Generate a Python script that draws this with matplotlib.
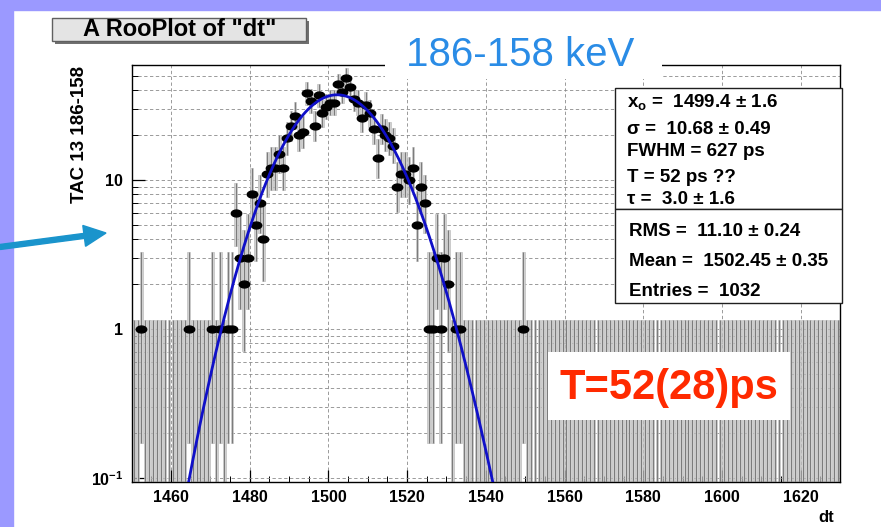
import math
import numpy as np
import matplotlib
matplotlib.use("Agg")
import matplotlib.pyplot as plt
from matplotlib.patches import Rectangle, FancyArrow
from matplotlib.path import Path
from matplotlib.ticker import FixedLocator, FixedFormatter, MultipleLocator, NullFormatter

plt.rcParams['font.family'] = ['Liberation Sans', 'DejaVu Sans']
plt.rcParams['mathtext.fontset'] = 'custom'
plt.rcParams['mathtext.rm'] = 'Liberation Sans:bold'
plt.rcParams['mathtext.it'] = 'Liberation Sans:bold'
plt.rcParams['mathtext.bf'] = 'Liberation Sans:bold'

# dt histogram: 1-unit bins over [1450, 1630); bins not listed are empty
dt_range = (1450, 1630)
dt_bins = [1452, 1464, 1470, 1472, 1474, 1475,
           1476, 1477, 1478, 1479, 1480, 1481, 1482, 1483,
           1484, 1485, 1486, 1487, 1488, 1489, 1490, 1491, 1492, 1493,
           1494, 1495, 1496, 1497, 1498, 1499, 1500, 1501, 1502, 1503,
           1504, 1505, 1506, 1507, 1508, 1509, 1510, 1511, 1512, 1513,
           1514, 1515, 1516, 1517, 1518, 1519, 1520, 1521, 1522, 1523, 1524,
           1525, 1526, 1527, 1528, 1529, 1530, 1532, 1533, 1549]
dt_counts = [1, 1, 1, 1, 1, 1,
             6, 3, 2, 3, 8, 5, 7, 4,
             11, 12, 12, 15, 12, 19, 23, 27, 20, 21,
             38, 34, 23, 37, 28, 31, 33, 33, 44, 39,
             48, 42, 35, 33, 26, 32, 28, 22, 14, 22,
             20, 19, 17, 9, 11, 11, 10, 12, 5, 9, 7,
             1, 1, 3, 1, 3, 2, 1, 1, 1]

# fit result: Gaussian convolved with an exponential decay
fit_x0 = 1499.4
fit_sigma = 10.68
fit_tau = 3.0
n_entries = 1032

x_ticks = [1460, 1480, 1500, 1520, 1540, 1560, 1580, 1600, 1620]
y_ticks = [0.1, 1, 10]
y_tick_labels = [r'$10^{-1}$', '1', '10']

stat_lines_fit = [r'x$_{\rm o}$ =  1499.4 ± 1.6', 'σ =  10.68 ± 0.49', 'FWHM = 627 ps',
                  'T = 52 ps ??', 'τ =  3.0 ± 1.6']
stat_lines_hist = ['RMS =  11.10 ± 0.24', 'Mean =  1502.45 ± 0.35', 'Entries =  1032']


def poisson_cdf(k, mu):
    term = math.exp(-mu)
    total = term
    for i in range(1, k + 1):
        term *= mu / i
        total += term
    return total


def solve_mu(k, target):
    lo, hi = 0.0, k + 20.0 * math.sqrt(k + 1) + 20.0
    for _ in range(100):
        mid = 0.5 * (lo + hi)
        if poisson_cdf(k, mid) > target:
            lo = mid
        else:
            hi = mid
    return 0.5 * (lo + hi)


def poisson_interval(n):
    if n == 0:
        return 0.0, solve_mu(0, 1 - 0.6827)
    return solve_mu(n - 1, 0.84135), solve_mu(n, 0.15865)


def emg(x, n, mu, sigma, tau):
    lam = 1.0 / tau
    out = []
    for xi in x:
        arg = lam * (mu - xi) + 0.5 * lam * lam * sigma * sigma
        erfc_arg = (mu + lam * sigma * sigma - xi) / (math.sqrt(2.0) * sigma)
        out.append(n * 0.5 * lam * math.exp(arg) * math.erfc(erfc_arg))
    return np.array(out)


W, H = 881, 527
fig = plt.figure(figsize=(W / 100, H / 100), dpi=100)
fig.patch.set_facecolor('white')

ax_l, ax_r, ax_t, ax_b = 131.6, 840.0, 65.0, 482.0
ax = fig.add_axes([ax_l / W, 1 - ax_b / H, (ax_r - ax_l) / W, (ax_b - ax_t) / H])
ax.set_yscale('log')
ax.set_xlim(*dt_range)
ax.set_ylim(0.094, 59.0)

# every bin of the histogram with its Poisson interval
count_map = dict(zip(dt_bins, dt_counts))
edges = np.arange(dt_range[0], dt_range[1])
centers = edges + 0.5
counts = np.array([count_map.get(int(e), 0) for e in edges])
lows, highs = [], []
for c in counts:
    lo, hi = poisson_interval(int(c))
    lows.append(lo if lo > 0 else 1e-3)
    highs.append(hi)
lows = np.array(lows)
highs = np.array(highs)

ax.bar(centers, highs - lows, bottom=lows, width=0.72, color='#d2d2d2',
       edgecolor='#b4b4b4', linewidth=0.4, zorder=2)
ax.vlines(centers, lows, highs, color='#7c7c7c', linewidth=0.75, zorder=3)

filled = counts > 0
ax.hlines(counts[filled], edges[filled], edges[filled] + 1, color='black',
          linewidth=0.9, zorder=4)
theta = np.linspace(0, 2 * np.pi, 41)
ellipse = Path(np.column_stack([np.cos(theta), 0.66 * np.sin(theta)]), closed=True)
ax.plot(centers[filled], counts[filled], linestyle='none', marker=ellipse,
        markersize=7.5, color='black', zorder=5)

xs = np.linspace(dt_range[0], dt_range[1], 1200)
ax.plot(xs, emg(xs, n_entries, fit_x0, fit_sigma, fit_tau), color='#1010c8',
        linewidth=2.0, zorder=6)

# axes styling
ax.xaxis.set_major_locator(FixedLocator(x_ticks))
ax.xaxis.set_minor_locator(MultipleLocator(5))
ax.yaxis.set_major_locator(FixedLocator(y_ticks))
ax.yaxis.set_major_formatter(FixedFormatter(y_tick_labels))
ax.yaxis.set_minor_locator(FixedLocator(
    [m * d for d in (0.1, 1, 10) for m in range(2, 10)]))
ax.yaxis.set_minor_formatter(NullFormatter())
ax.tick_params(which='both', direction='in', top=False, right=False)
ax.tick_params(which='major', length=9, width=0.9, labelsize=11.5, pad=6)
ax.tick_params(which='minor', length=4.5, width=0.7)
for lab in ax.get_xticklabels() + ax.get_yticklabels():
    lab.set_fontweight('bold')
ax.grid(True, which='both', axis='y', linestyle=(0, (4, 3)), color='#8a8a8a',
        linewidth=0.6, zorder=1)
ax.grid(True, which='major', axis='x', linestyle=(0, (4, 3)), color='#8a8a8a',
        linewidth=0.6, zorder=1)
ax.set_axisbelow(True)
for s in ax.spines.values():
    s.set_linewidth(1.0)

fig.text(826 / W, 1 - 517 / H, 'dt', fontsize=12, fontweight='bold',
         ha='center', va='center')
fig.text(80 / W, 1 - 134 / H, 'TAC 13 186-158', fontsize=13.5, fontweight='bold',
         rotation=90, ha='center', va='center')

# overlay in pixel coordinates for the panels drawn over the frame
deco = fig.add_axes([0, 0, 1, 1], facecolor='none')
deco.set_xlim(0, W)
deco.set_ylim(H, 0)
deco.axis('off')

lav = '#9b99ff'
deco.add_patch(Rectangle((0, 0), W, 10, color=lav, zorder=1))
deco.add_patch(Rectangle((0, 0), 13, H, color=lav, zorder=1))

deco.add_patch(FancyArrow(0, 247, 106, -14, width=5, head_width=21,
                          head_length=22, length_includes_head=True,
                          color='#1a94cc', zorder=3))

# title button
deco.add_patch(Rectangle((55, 21), 254, 23, facecolor='#707070', edgecolor='none', zorder=2))
deco.add_patch(Rectangle((52, 18), 254, 23, facecolor='#e4e4e4', edgecolor='#606060',
                         linewidth=1.0, zorder=3))
deco.text(180, 30, 'A RooPlot of "dt"', fontsize=17, fontweight='bold',
          ha='center', va='center', zorder=4)

# energy gate label
deco.add_patch(Rectangle((385, 33), 277, 46, facecolor='white', edgecolor='none', zorder=2))
deco.text(520, 55, '186-158 keV', fontsize=29, color='#2a8ce6',
          ha='center', va='center', zorder=3)

# fit and histogram statistics
deco.add_patch(Rectangle((615, 88), 227, 121, facecolor='white', edgecolor='#202020',
                         linewidth=1.0, zorder=2))
deco.add_patch(Rectangle((615, 209), 227, 94, facecolor='white', edgecolor='#202020',
                         linewidth=1.0, zorder=2))
for txt, yy in zip(stat_lines_fit, [102, 129, 152, 177, 200]):
    deco.text(627, yy, txt, fontsize=13.5, fontweight='bold', ha='left', va='center', zorder=3)
for txt, yy in zip(stat_lines_hist, [231, 262, 292]):
    deco.text(629, yy, txt, fontsize=13.5, fontweight='bold', ha='left', va='center', zorder=3)

# lifetime result
deco.add_patch(Rectangle((548, 352), 242, 68, facecolor='white', edgecolor='none', zorder=2))
deco.text(669, 388, 'T=52(28)ps', fontsize=30, fontweight='bold', color='#ff2a00',
          ha='center', va='center', zorder=3)

fig.savefig('out.png', dpi=100)
